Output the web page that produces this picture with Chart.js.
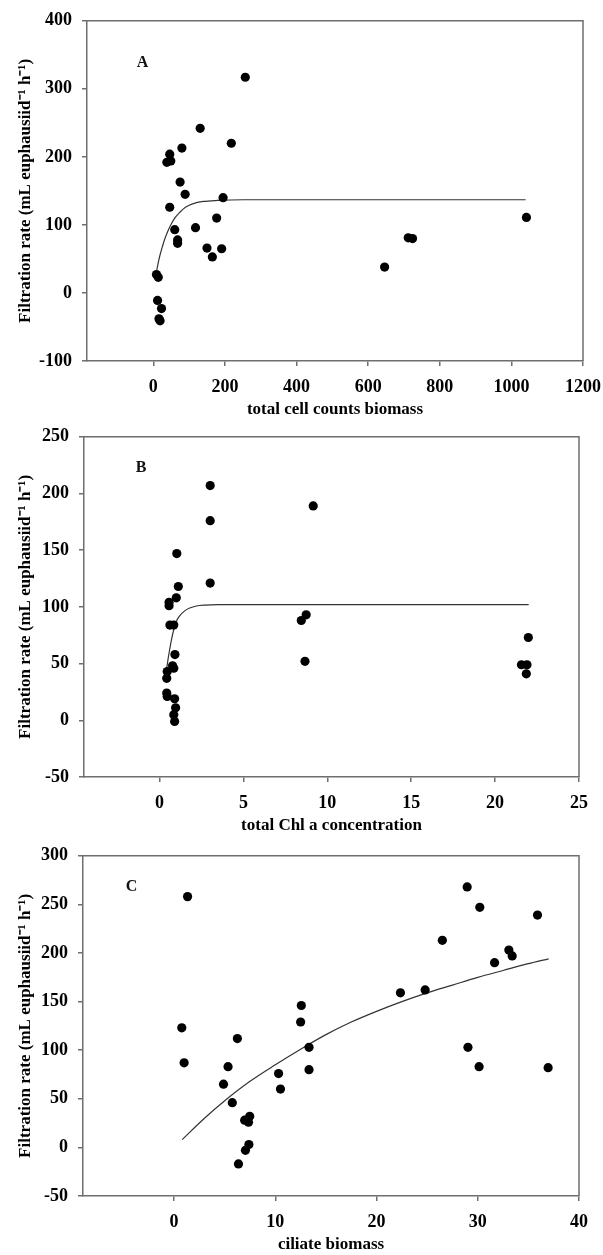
<!DOCTYPE html>
<html>
<head>
<meta charset="utf-8">
<script src="https://cdn.jsdelivr.net/npm/chart.js@4.4.0/dist/chart.umd.min.js"></script>
<style>
  body { margin: 0; background: #fff; }
  #wrap { position: relative; width: 603px; height: 1255px; }
  #wrap canvas { position: absolute; left: 0; }
</style>
</head>
<body>
<div id="wrap">
  <canvas id="chartA" width="603" height="420" style="top:0px"></canvas>
  <canvas id="chartB" width="603" height="420" style="top:416px"></canvas>
  <canvas id="chartC" width="603" height="420" style="top:835px"></canvas>
</div>
<script>
// Panel A - total cell counts biomass
const aX = [9, 14, 12, 23, 16, 19, 38, 46, 49, 46, 60, 68, 68, 75, 80, 89, 118, 131, 150, 165, 177, 191, 195, 218, 257, 646, 712, 724, 1042];
const aY = [27, 23, -11, -23, -38, -41, 192, 204, 194, 126, 93, 78, 73, 163, 213, 145, 96, 242, 66, 53, 110, 65, 140, 220, 317, 38, 81, 80, 111];
const aFitX = [10, 15, 20, 25, 30, 40, 50, 60, 75, 90, 110, 140, 180, 250, 400, 1040];
const aFitY = [34, 47, 58, 67, 76, 90, 101, 110, 119, 126, 131, 134.5, 136, 137, 137, 137];
const aTicksX = [0, 200, 400, 600, 800, 1000, 1200];
const aTicksY = [-100, 0, 100, 200, 300, 400];

// Panel B - total Chl a concentration
const bX = [0.43, 0.46, 0.43, 0.46, 0.57, 0.57, 0.62, 0.78, 0.85, 0.85, 0.92, 0.9, 0.96, 0.85, 0.9, 1.0, 1.03, 1.12, 3.02, 3.02, 3.02, 8.45, 8.74, 8.67, 9.16, 21.57, 21.9, 21.86, 21.98];
const bY = [24, 21, 37, 43, 104, 101, 84, 48, 46, 84, 58, 19, 11, 5, -1, 108, 147, 118, 207, 176, 121, 88, 93, 52, 189, 49, 49, 41, 73];
const bFitX = [0.4, 0.5, 0.6, 0.7, 0.8, 1.0, 1.2, 1.5, 1.8, 2.2, 2.7, 3.5, 5, 22];
const bFitY = [42, 53, 62, 70, 77, 87, 92, 96.5, 99, 100.8, 101.6, 102, 102, 102];
const bTicksX = [0, 5, 10, 15, 20, 25];
const bTicksY = [-50, 0, 50, 100, 150, 200, 250];

// Panel C - ciliate biomass
const cX = [0.76, 0.99, 1.33, 4.88, 5.33, 5.75, 6.25, 6.36, 6.97, 7.05, 7.35, 7.47, 7.39, 10.32, 10.51, 12.5, 12.57, 13.33, 13.33, 22.36, 24.8, 26.5, 28.95, 29.03, 30.2, 30.13, 31.66, 33.07, 33.4, 35.9, 36.95];
const cY = [123, 87, 258, 65, 83, 46, 112, -17, 28, -3, 26, 32, 3, 76, 60, 129, 146, 103, 80, 159, 162, 213, 268, 103, 247, 83, 190, 203, 197, 239, 82];
const cFitX = [0.8, 3, 5, 7.5, 10, 12.5, 15, 17.5, 20, 22.5, 25, 27.5, 30, 32.5, 35, 37];
const cFitY = [8, 30, 48, 68, 85, 101, 116, 129, 140, 150, 159, 167, 175, 182, 189, 194];
const cTicksX = [0, 10, 20, 30, 40];
const cTicksY = [-50, 0, 50, 100, 150, 200, 250, 300];

const serif = '"Liberation Serif", "Times New Roman", serif';
const axisGray = '#6e6e6e';

function toPoints(xs, ys) {
  return xs.map((x, i) => ({ x: x, y: ys[i] }));
}

// draws the top and right sides of the plot frame, plus the panel letter
const framePlugin = {
  id: 'frame',
  afterDraw(chart, args, opts) {
    const ctx = chart.ctx;
    const a = chart.chartArea;
    ctx.save();
    ctx.strokeStyle = axisGray;
    ctx.lineWidth = 1.5;
    ctx.beginPath();
    ctx.moveTo(a.left, a.top);
    ctx.lineTo(a.right, a.top);
    ctx.lineTo(a.right, a.bottom);
    ctx.stroke();
    ctx.fillStyle = '#111';
    ctx.font = 'bold 16px ' + serif;
    ctx.textAlign = 'center';
    ctx.textBaseline = 'middle';
    ctx.fillText(opts.letter, chart.scales.x.getPixelForValue(opts.lx), chart.scales.y.getPixelForValue(opts.ly));
    ctx.restore();
  }
};

function makeChart(id, xs, ys, fitX, fitY, ticksX, ticksY, xMin, xMax, yMin, yMax, plotLeft, plotRight, xTitle, letter, lx, ly) {
  const ctx = document.getElementById(id).getContext('2d');
  return new Chart(ctx, {
    type: 'scatter',
    data: {
      datasets: [
        {
          data: toPoints(xs, ys),
          pointRadius: 4.6,
          pointBackgroundColor: '#000',
          pointBorderColor: '#000',
          pointBorderWidth: 0,
          showLine: false,
          order: 1
        },
        {
          data: toPoints(fitX, fitY),
          showLine: true,
          pointRadius: 0,
          borderColor: '#333',
          borderWidth: 1.2,
          cubicInterpolationMode: 'monotone',
          order: 2
        }
      ]
    },
    options: {
      responsive: false,
      animation: false,
      devicePixelRatio: 1,
      layout: { padding: { top: 15, right: 603 - plotRight, left: 0, bottom: 0 } },
      plugins: {
        legend: { display: false },
        tooltip: { enabled: false },
        frame: { letter: letter, lx: lx, ly: ly }
      },
      scales: {
        x: {
          type: 'linear',
          min: xMin,
          max: xMax,
          afterBuildTicks: s => { s.ticks = ticksX.map(v => ({ value: v })); },
          afterFit: s => { s.height = 59; s.paddingLeft = 0; s.paddingRight = 0; },
          grid: { display: true, drawOnChartArea: false, drawTicks: true, tickLength: 5, color: axisGray, lineWidth: 1.5 },
          border: { display: true, color: axisGray, width: 1.5 },
          ticks: { color: '#000', padding: 11, maxRotation: 0, callback: v => String(v), font: { family: serif, size: 18, weight: 'bold' } },
          title: { display: true, text: xTitle, color: '#000', padding: { top: 0, bottom: 0 }, font: { family: serif, size: 17, weight: 'bold' } }
        },
        y: {
          type: 'linear',
          min: yMin,
          max: yMax,
          afterBuildTicks: s => { s.ticks = ticksY.map(v => ({ value: v })); },
          afterFit: s => { s.width = plotLeft; },
          grid: { display: true, drawOnChartArea: false, drawTicks: true, tickLength: 5, color: axisGray, lineWidth: 1.5 },
          border: { display: true, color: axisGray, width: 1.5 },
          ticks: { color: '#000', padding: 10, callback: v => String(v), font: { family: serif, size: 18, weight: 'bold' } },
          title: { display: true, text: 'Filtration rate (mL euphausiid\u207B\u00B9 h\u207B\u00B9)', color: '#000', padding: { top: 15, bottom: 0 }, font: { family: serif, size: 17, weight: 'bold' } }
        }
      }
    },
    plugins: [framePlugin]
  });
}

makeChart('chartA', aX, aY, aFitX, aFitY, aTicksX, aTicksY, -185, 1200, -100, 400, 87, 583, 'total cell counts biomass', 'A', -30, 338);
makeChart('chartB', bX, bY, bFitX, bFitY, bTicksX, bTicksY, -4.5, 25, -50, 250, 84, 579, 'total Chl a concentration', 'B', -1.1, 223);
makeChart('chartC', cX, cY, cFitX, cFitY, cTicksX, cTicksY, -9, 40, -50, 300, 83, 579, 'ciliate biomass', 'C', -4.2, 268);
</script>
</body>
</html>
